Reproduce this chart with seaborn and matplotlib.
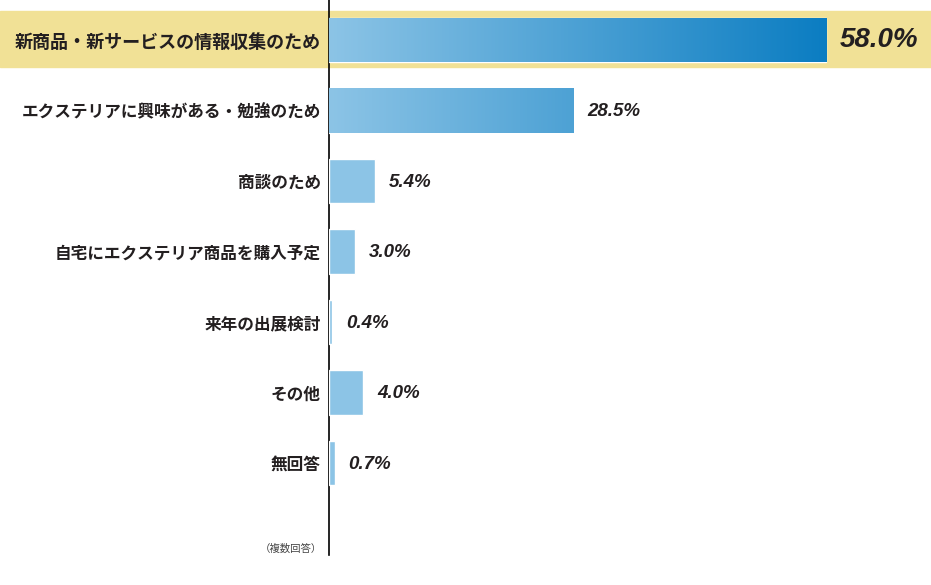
import numpy as np
import pandas as pd
import matplotlib.pyplot as plt
import seaborn as sns
from matplotlib.colors import LinearSegmentedColormap

# data
categories = ['新商品・新サービスの情報収集のため', 'エクステリアに興味がある・勉強のため', '商談のため',
              '自宅にエクステリア商品を購入予定', '来年の出展検討', 'その他', '無回答']
values = [58.0, 28.5, 5.4, 3.0, 0.4, 4.0, 0.7]
note = '（複数回答）'

df = pd.DataFrame({'category': categories, 'value': values})

sns.set_theme(style='white')
plt.rcParams['font.family'] = ['Noto Sans CJK JP', 'DejaVu Sans']

fig = plt.figure(figsize=(9.31, 5.85), dpi=100)
W, H = 931, 585
ax = fig.add_axes([329 / W, 30 / H, (W - 329) / W, 555 / H])

light = '#8cc4e6'
sns.barplot(data=df, x='value', y='category', orient='h', color=light,
            saturation=1, width=0.63, ax=ax, zorder=3)

row_px = 70.5
xmax = (W - 329) / 8.57
ylims = ((555 - 40) / row_px, -40 / row_px)

# gradient fill for the two long bars
cmap = LinearSegmentedColormap.from_list('blu', [light, '#0b7dc2'])
grad = np.linspace(0, 1, 256).reshape(1, -1)
for patch in ax.patches[:2]:
    x0, y0 = patch.get_x(), patch.get_y()
    w, h = patch.get_width(), patch.get_height()
    frac = w / values[0]
    im = ax.imshow(grad[:, :int(256 * frac)], cmap=cmap, vmin=0, vmax=1, aspect='auto',
                   extent=[x0, x0 + w, y0 + h, y0], zorder=4)
    im.set_clip_path(patch)
ax.set_xlim(0, xmax)
ax.set_ylim(*ylims)

# highlight band behind the first row
band = plt.Rectangle((0, (H - 67) / H), 1, 56 / H, transform=fig.transFigure,
                     color='#f1e196', zorder=-5)
fig.patches.append(band)
ax.set_facecolor('none')
fig.patch.set_facecolor('white')

for i, v in enumerate(values):
    if i == 0:
        ax.text(v + 1.6, i, f'{v:.1f}%', va='center', ha='left', fontsize=20,
                fontweight='bold', fontstyle='italic', family='Liberation Sans',
                color='#231f20', zorder=5)
    else:
        ax.text(v + 1.6, i + 0.02, f'{v:.1f}%', va='center', ha='left', fontsize=13.5,
                fontweight='bold', fontstyle='italic', family='Liberation Sans',
                color='#231f20', zorder=5)

ax.set_yticks(range(len(categories)))
ax.set_yticklabels(categories)
for i, lab in enumerate(ax.get_yticklabels()):
    if i == 0:
        lab.set_fontsize(13)
        lab.set_fontweight('bold')
    else:
        lab.set_fontsize(12)
        lab.set_fontweight('bold')
    lab.set_color('#231f20')
ax.tick_params(axis='y', length=0, pad=6)
ax.set_xticks([])
ax.set_xlabel('')
ax.set_ylabel('')
for s in ['top', 'right', 'bottom']:
    ax.spines[s].set_visible(False)
ax.spines['left'].set_color('black')
ax.spines['left'].set_linewidth(1.2)

fig.text(322 / W, 1 - 549 / H, note, ha='right', va='center', fontsize=7.5, color='#444444')

fig.savefig('out.png', dpi=100, facecolor='white')
